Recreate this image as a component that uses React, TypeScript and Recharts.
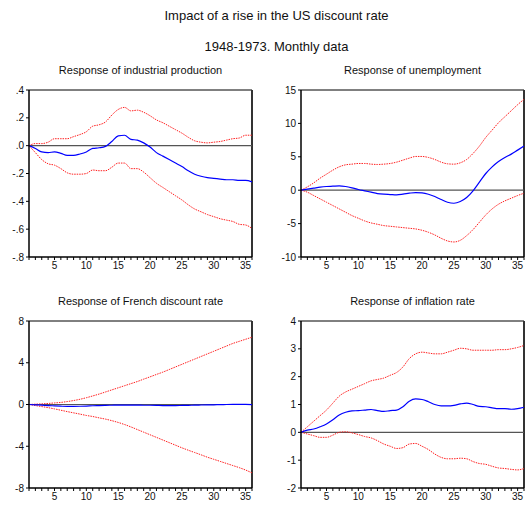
import React from 'react';
import { LineChart, Line, XAxis, YAxis, ReferenceLine } from 'recharts';

// horizon in months
const months = Array.from({ length: 36 }, (_, i) => i + 1);

// industrial production
const ipResponse = [0, -0.02, -0.045, -0.05, -0.045, -0.055, -0.07, -0.07, -0.06, -0.045, -0.02, -0.015, -0.005, 0.03, 0.07, 0.075, 0.045, 0.04, 0.02, -0.01, -0.05, -0.075, -0.1, -0.125, -0.15, -0.18, -0.205, -0.22, -0.23, -0.235, -0.24, -0.245, -0.245, -0.25, -0.25, -0.26];
const ipUpper = [0, 0.015, 0.015, 0.025, 0.05, 0.05, 0.05, 0.065, 0.08, 0.1, 0.14, 0.15, 0.17, 0.22, 0.26, 0.275, 0.25, 0.255, 0.24, 0.215, 0.185, 0.165, 0.14, 0.115, 0.09, 0.06, 0.035, 0.025, 0.02, 0.025, 0.03, 0.04, 0.05, 0.055, 0.075, 0.075];
const ipLower = [0, -0.05, -0.1, -0.13, -0.14, -0.165, -0.195, -0.205, -0.205, -0.2, -0.175, -0.18, -0.18, -0.155, -0.125, -0.125, -0.165, -0.165, -0.19, -0.23, -0.27, -0.3, -0.33, -0.36, -0.39, -0.425, -0.455, -0.475, -0.495, -0.51, -0.525, -0.535, -0.545, -0.565, -0.57, -0.595];

// unemployment
const unResponse = [0, 0.15, 0.3, 0.45, 0.55, 0.6, 0.65, 0.55, 0.35, 0.1, -0.1, -0.3, -0.5, -0.6, -0.65, -0.7, -0.6, -0.45, -0.35, -0.4, -0.6, -0.95, -1.4, -1.8, -1.95, -1.7, -1.1, -0.1, 1.2, 2.5, 3.5, 4.3, 4.9, 5.4, 6.0, 6.6];
const unUpper = [0, 0.5, 1.1, 1.8, 2.4, 3.0, 3.5, 3.8, 3.9, 4.0, 4.0, 3.9, 3.85, 3.9, 4.0, 4.2, 4.5, 4.8, 5.05, 5.05, 4.9, 4.6, 4.2, 3.95, 3.9, 4.1, 4.6, 5.5, 6.6, 7.9, 9.0, 10.1, 11.0, 11.9, 12.8, 13.6];
const unLower = [0, -0.3, -0.8, -1.3, -1.8, -2.3, -2.8, -3.3, -3.8, -4.2, -4.6, -4.9, -5.1, -5.3, -5.4, -5.5, -5.6, -5.7, -5.8, -6.0, -6.3, -6.7, -7.2, -7.6, -7.75, -7.5, -6.8, -5.9, -4.8, -3.7, -2.8, -2.1, -1.6, -1.2, -0.8, -0.45];

// French discount rate
const frResponse = [0, -0.03, -0.06, -0.1, -0.13, -0.16, -0.18, -0.18, -0.17, -0.15, -0.12, -0.1, -0.08, -0.07, -0.06, -0.06, -0.06, -0.06, -0.07, -0.07, -0.08, -0.1, -0.1, -0.1, -0.09, -0.08, -0.06, -0.05, -0.04, -0.03, -0.01, 0, 0.01, 0.02, 0.01, -0.02];
const frUpper = [0, 0.03, 0.06, 0.1, 0.15, 0.2, 0.28, 0.38, 0.5, 0.65, 0.82, 1.0, 1.2, 1.4, 1.6, 1.8, 2.0, 2.2, 2.43, 2.65, 2.88, 3.1, 3.35, 3.6, 3.85, 4.1, 4.35, 4.6, 4.85, 5.1, 5.35, 5.6, 5.85, 6.05, 6.25, 6.45];
const frLower = [0, -0.1, -0.2, -0.3, -0.42, -0.55, -0.68, -0.8, -0.92, -1.05, -1.15, -1.28, -1.4, -1.55, -1.72, -1.92, -2.15, -2.4, -2.65, -2.9, -3.15, -3.4, -3.65, -3.9, -4.15, -4.38, -4.6, -4.82, -5.05, -5.25, -5.45, -5.65, -5.85, -6.05, -6.28, -6.55];

// inflation rate
const inResponse = [0, 0.08, 0.12, 0.2, 0.3, 0.45, 0.62, 0.72, 0.77, 0.78, 0.8, 0.82, 0.78, 0.75, 0.78, 0.8, 0.92, 1.12, 1.2, 1.18, 1.1, 1.0, 0.95, 0.95, 0.97, 1.02, 1.05, 1.0, 0.93, 0.92, 0.88, 0.85, 0.85, 0.83, 0.85, 0.9];
const inUpper = [0, 0.2, 0.4, 0.6, 0.8, 1.05, 1.3, 1.45, 1.55, 1.65, 1.75, 1.85, 1.9, 1.95, 2.05, 2.15, 2.35, 2.65, 2.82, 2.88, 2.85, 2.82, 2.82, 2.88, 2.95, 3.02, 3.0, 2.95, 2.95, 2.95, 2.95, 2.97, 2.97, 3.0, 3.05, 3.12];
const inLower = [0, -0.06, -0.12, -0.18, -0.18, -0.1, 0, 0.02, -0.02, -0.08, -0.15, -0.2, -0.3, -0.42, -0.5, -0.58, -0.55, -0.42, -0.4, -0.5, -0.62, -0.78, -0.9, -0.95, -0.95, -0.93, -0.95, -1.05, -1.12, -1.15, -1.22, -1.28, -1.3, -1.33, -1.35, -1.3];

const ipTicks = [0.4, 0.2, 0, -0.2, -0.4, -0.6, -0.8];
const unTicks = [15, 10, 5, 0, -5, -10];
const frTicks = [8, 4, 0, -4, -8];
const inTicks = [4, 3, 2, 1, 0, -1, -2];

const font = '"Liberation Sans", Arial, Helvetica, sans-serif';

const decimalLabel = (v: number) => {
  if (v === 0) return '.0';
  const s = Math.abs(v).toFixed(1).replace(/^0/, '');
  return v < 0 ? '-' + s : s;
};

function buildRows(resp: number[], upper: number[], lower: number[]) {
  return months.map((m, i) => ({ x: m, resp: resp[i], upper: upper[i], lower: lower[i] }));
}

type PanelProps = {
  title: string;
  left: number;
  top: number;
  width: number;
  yWidth: number;
  rightMargin: number;
  rows: { x: number; resp: number; upper: number; lower: number }[];
  yTicks: number[];
  fmt?: (v: number) => string;
};

function Panel({ title, left, top, width, yWidth, rightMargin, rows, yTicks, fmt }: PanelProps) {
  const yMax = Math.max(...yTicks);
  const yMin = Math.min(...yTicks);
  const plotCenter = yWidth + (width - yWidth - rightMargin) / 2;
  return (
    <div style={{ position: 'absolute', left, top: top - 17, width }}>
      <div
        style={{
          position: 'absolute',
          left: plotCenter - 150,
          width: 300,
          top: 1,
          textAlign: 'center',
          fontSize: 11,
          lineHeight: '13px',
          color: '#111',
        }}
      >
        {title}
      </div>
      <div style={{ position: 'absolute', left: 0, top: 17 }}>
        <LineChart
          width={width}
          height={200}
          data={rows}
          margin={{ top: 10, right: rightMargin, bottom: 3, left: 0 }}
        >
          <XAxis
            dataKey="x"
            type="number"
            domain={[1, 36]}
            ticks={months}
            interval={0}
            tickSize={3}
            tickMargin={2}
            height={20}
            tickFormatter={(v: number) => (v % 5 === 0 ? String(v) : '')}
            tick={{ fontSize: 10, fill: '#111', fontFamily: font }}
            axisLine={{ stroke: '#000', strokeWidth: 1.5 }}
            tickLine={{ stroke: '#000' }}
          />
          <YAxis
            type="number"
            domain={[yMin, yMax]}
            ticks={yTicks}
            interval={0}
            width={yWidth}
            tickSize={3}
            tickMargin={2}
            tickFormatter={fmt}
            tick={{ fontSize: 10, fill: '#111', fontFamily: font }}
            axisLine={{ stroke: '#000', strokeWidth: 1.5 }}
            tickLine={{ stroke: '#000' }}
          />
          <ReferenceLine y={yMax} stroke="#000" strokeWidth={1} />
          <ReferenceLine x={36} stroke="#333" strokeWidth={2} />
          <ReferenceLine y={0} stroke="#555" strokeWidth={1.2} />
          <Line type="monotone" dataKey="upper" stroke="#ff2020" strokeWidth={1} strokeDasharray="1.5 1" dot={false} isAnimationActive={false} />
          <Line type="monotone" dataKey="lower" stroke="#ff2020" strokeWidth={1} strokeDasharray="1.5 1" dot={false} isAnimationActive={false} />
          <Line type="monotone" dataKey="resp" stroke="#0000ff" strokeWidth={1.2} dot={false} isAnimationActive={false} />
        </LineChart>
      </div>
    </div>
  );
}

export default function App() {
  return (
    <div style={{ position: 'absolute', left: 0, top: 0, width: 525, height: 512, background: '#fff', fontFamily: font }}>
      <div style={{ position: 'absolute', left: 29, width: 495, top: 8, textAlign: 'center', fontSize: 13, lineHeight: '16px', color: '#111' }}>
        Impact of a rise in the US discount rate
      </div>
      <div style={{ position: 'absolute', left: 29, width: 495, top: 39, textAlign: 'center', fontSize: 13, lineHeight: '16px', color: '#111' }}>
        1948-1973. Monthly data
      </div>
      <Panel title="Response of industrial production" left={0} top={80} width={262} yWidth={29} rightMargin={10}
        rows={buildRows(ipResponse, ipUpper, ipLower)} yTicks={ipTicks} fmt={decimalLabel} />
      <Panel title="Response of unemployment" left={262} top={80} width={263} yWidth={39} rightMargin={1}
        rows={buildRows(unResponse, unUpper, unLower)} yTicks={unTicks} />
      <Panel title="Response of French discount rate" left={0} top={311} width={262} yWidth={29} rightMargin={10}
        rows={buildRows(frResponse, frUpper, frLower)} yTicks={frTicks} />
      <Panel title="Response of inflation rate" left={262} top={311} width={263} yWidth={39} rightMargin={1}
        rows={buildRows(inResponse, inUpper, inLower)} yTicks={inTicks} />
    </div>
  );
}
